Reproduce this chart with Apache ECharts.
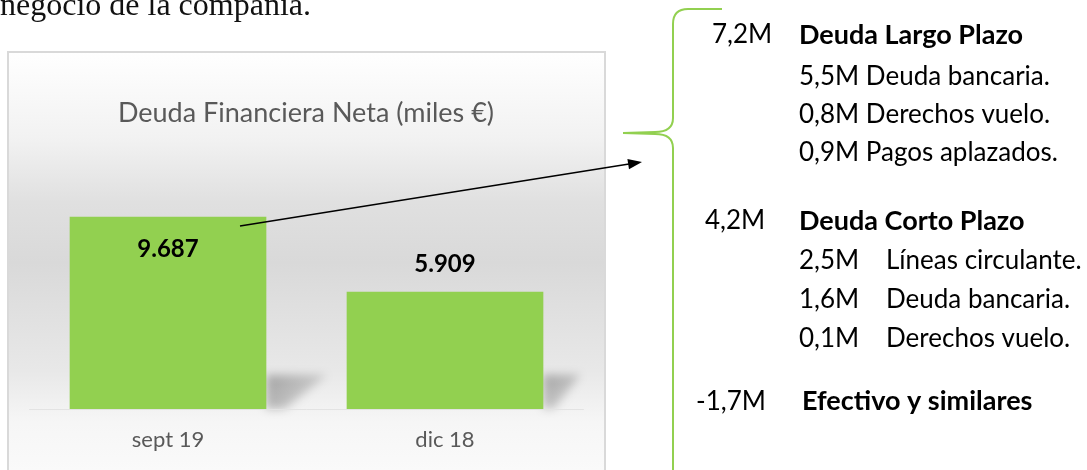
<!DOCTYPE html>
<html>
<head>
<meta charset="utf-8">
<script src="https://cdn.jsdelivr.net/npm/echarts@6.0.0/dist/echarts.min.js"></script>
<style>
  html, body { margin: 0; padding: 0; background: #fff; }
  #chart { width: 1087px; height: 470px; }
</style>
</head>
<body>
<div id="chart"></div>
<script>
const categories = ['sept 19', 'dic 18'];
const deudaNeta = [9687, 5909];

const largoPlazoTotal = '7,2M';
const largoPlazo = ['5,5M Deuda bancaria.', '0,8M Derechos vuelo.', '0,9M Pagos aplazados.'];
const cortoPlazoTotal = '4,2M';
const cortoPlazoImportes = ['2,5M', '1,6M', '0,1M'];
const cortoPlazoConceptos = ['Líneas circulante.', 'Deuda bancaria.', 'Derechos vuelo.'];
const efectivoTotal = '-1,7M';

const FONT = 'Lato, "Open Sans", sans-serif';
const GREEN = '#92d050';

// 9687 -> "9.687"
const fmt = (n) => String(n).replace(/\B(?=(\d{3})+(?!\d))/g, '.');

const chart = echarts.init(document.getElementById('chart'));

const txt = (x, y, text, opts = {}) => ({
  type: 'text',
  x: x,
  y: y,
  z: 20,
  style: Object.assign({
    text: text,
    fontFamily: FONT,
    fontSize: 26,
    fill: '#000',
    verticalAlign: 'middle',
    align: 'left'
  }, opts)
});

const rightTexts = [
  txt(712, 35, largoPlazoTotal),
  txt(799, 35, 'Deuda Largo Plazo', { fontWeight: 'bold', fontSize: 27 }),
  ...largoPlazo.map((t, i) => txt(799, 77 + i * 38, t)),
  txt(705, 221, cortoPlazoTotal),
  txt(799, 221, 'Deuda Corto Plazo', { fontWeight: 'bold', fontSize: 27 }),
  ...cortoPlazoImportes.map((t, i) => txt(799, 261 + i * 39, t)),
  ...cortoPlazoConceptos.map((t, i) => txt(886, 261 + i * 39, t)),
  txt(696, 402, efectivoTotal),
  txt(802, 401, 'Efectivo y similares', { fontWeight: 'bold', fontSize: 27 })
];

// llave verde: tramos rectos y curvas
const braceStyle = { stroke: GREEN, lineWidth: 2, fill: null };
const seg = (x1, y1, x2, y2) => ({ type: 'line', z: 20, shape: { x1, y1, x2, y2 }, style: braceStyle });
const curve = (x1, y1, cx, cy, x2, y2) => ({
  type: 'bezierCurve', z: 20,
  shape: { x1, y1, x2, y2, cpx1: cx, cpy1: cy },
  style: braceStyle
});
const brace = [
  seg(722, 9, 688, 9),
  curve(688, 9, 673, 9, 673, 24),
  seg(673, 24, 673, 118),
  curve(673, 118, 673, 132, 655, 132),
  seg(655, 132, 623, 133),
  seg(623, 133, 655, 134),
  curve(655, 134, 673, 134, 673, 148),
  seg(673, 148, 673, 480)
];

const SHIFT = 2000; // la sombra se dibuja fuera y se desplaza para que solo quede el desenfoque

const option = {
  animation: false,
  backgroundColor: '#ffffff',
  title: {
    text: 'Deuda Financiera Neta (miles €)',
    left: 301,
    top: 95,
    textAlign: 'center',
    textStyle: {
      fontFamily: FONT,
      fontWeight: 'normal',
      fontSize: 27,
      color: '#595959'
    }
  },
  grid: {
    left: 29.5,
    right: 503.5,
    top: 171,
    bottom: 61
  },
  xAxis: {
    type: 'category',
    data: categories,
    z: 5,
    axisTick: { show: false },
    axisLine: { lineStyle: { color: '#e3e3e3', width: 1 } },
    axisLabel: {
      color: '#595959',
      fontFamily: FONT,
      fontSize: 22,
      margin: 20
    }
  },
  yAxis: {
    type: 'value',
    min: 0,
    max: 12000,
    show: false
  },
  graphic: [
    // marco del gráfico con degradado
    {
      type: 'rect',
      z: 0,
      shape: { x: 8, y: 52, width: 597, height: 430 },
      style: {
        fill: new echarts.graphic.LinearGradient(0, 0, 0, 1, [
          { offset: 0, color: '#ffffff' },
          { offset: 0.2, color: '#f2f2f2' },
          { offset: 0.35, color: '#e0e0e0' },
          { offset: 0.49, color: '#d9d9d9' },
          { offset: 0.74, color: '#e8e8e8' },
          { offset: 0.86, color: '#f6f6f6' },
          { offset: 1, color: '#fbfbfb' }
        ]),
        stroke: '#d9d9d9',
        lineWidth: 2
      }
    },
    // texto del documento (cortado arriba)
    {
      type: 'text',
      x: 0,
      y: 23,
      z: 20,
      style: {
        text: 'negocio de la compañía.',
        fontFamily: '"Liberation Serif", serif',
        fontSize: 32,
        fill: '#111',
        verticalAlign: 'bottom'
      }
    },
    ...brace,
    // flecha
    {
      type: 'line',
      z: 20,
      shape: { x1: 240, y1: 226, x2: 629, y2: 164 },
      style: { stroke: '#000', lineWidth: 1.6 }
    },
    {
      type: 'polygon',
      z: 20,
      shape: { points: [[642, 162], [629.0, 169.3], [627.4, 159.1]] },
      style: { fill: '#000' }
    },
    ...rightTexts
  ],
  series: [
    {
      // sombra proyectada de cada barra
      type: 'custom',
      z: 2,
      silent: true,
      clip: false,
      data: deudaNeta.map((v, i) => [i, v]),
      encode: { x: 0, y: 1 },
      renderItem: (params, api) => {
        const i = api.value(0);
        const v = api.value(1);
        const base = api.coord([i, 0]);
        const top = api.coord([i, v]);
        const bw = api.size([1, 0])[0] * 0.71;
        const right = base[0] + bw / 2 - SHIFT;
        const ext = (base[1] - top[1]) * 0.32;
        const sh = 34;
        return {
          type: 'polygon',
          shape: {
            points: [
              [right, base[1] - sh],
              [right + ext, base[1] - sh],
              [right + ext * 0.3, base[1]],
              [right, base[1]]
            ]
          },
          style: {
            fill: new echarts.graphic.LinearGradient(0, 0, 1, 1, [
              { offset: 0, color: 'rgba(0,0,0,1)' },
              { offset: 1, color: 'rgba(0,0,0,0.3)' }
            ]),
            shadowBlur: 10,
            shadowOffsetX: SHIFT,
            shadowColor: 'rgba(0,0,0,0.3)'
          }
        };
      }
    },
    {
      type: 'bar',
      z: 3,
      barWidth: '71%',
      itemStyle: { color: GREEN },
      label: {
        show: true,
        formatter: (p) => fmt(p.value),
        fontFamily: FONT,
        fontWeight: 'bold',
        fontSize: 24,
        color: '#000'
      },
      data: deudaNeta.map((v, i) => ({
        value: v,
        // Excel dejó la primera etiqueta dentro de la barra
        label: i === 0
          ? { position: 'insideTop', distance: 20 }
          : { position: 'top', distance: 16 }
      }))
    }
  ]
};

chart.setOption(option);
</script>
</body>
</html>
